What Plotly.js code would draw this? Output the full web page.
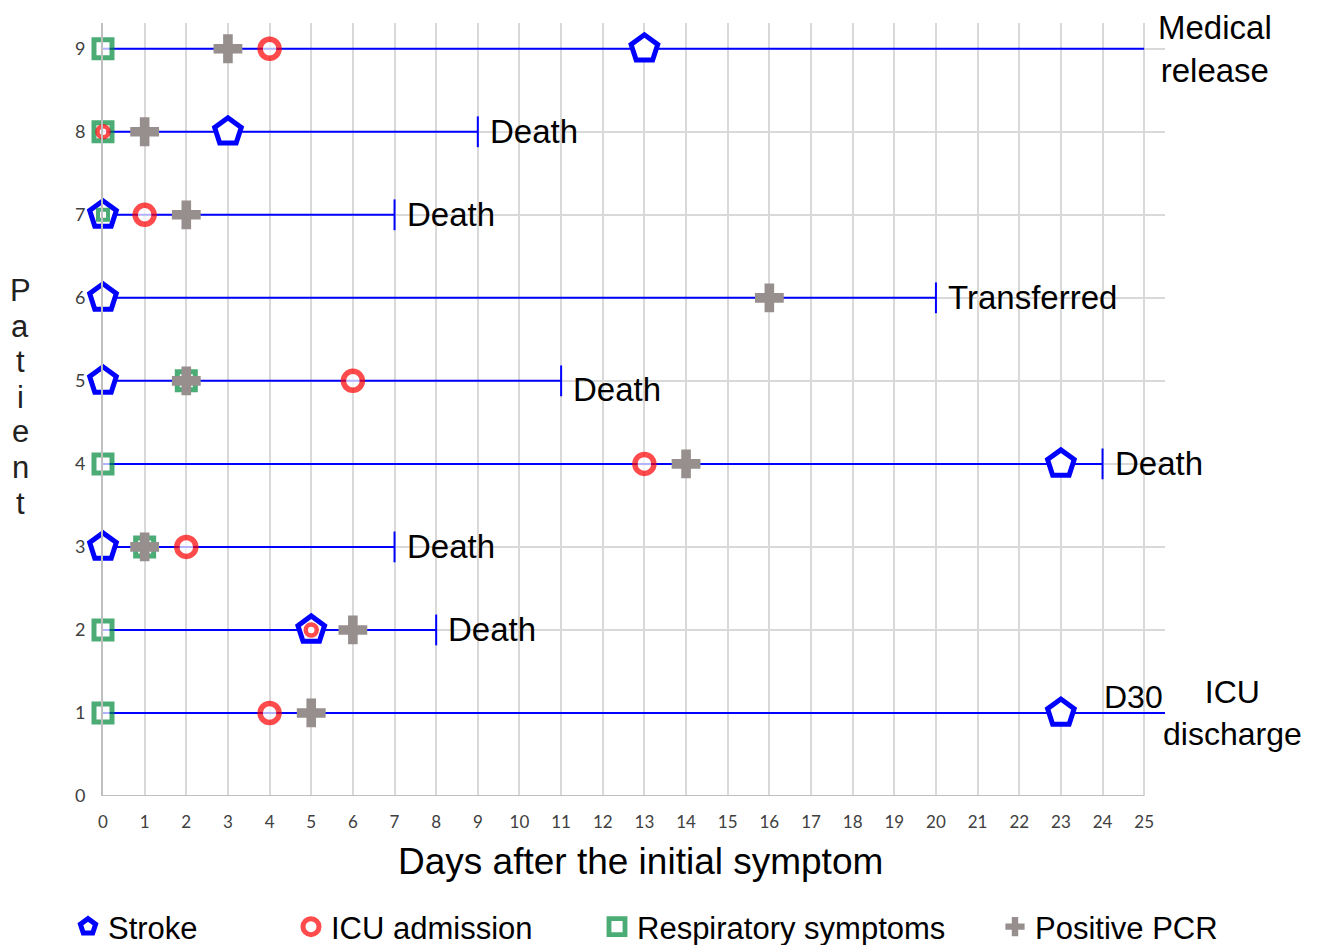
<!DOCTYPE html>
<html>
<head>
<meta charset="utf-8">
<script src="https://cdn.plot.ly/plotly-3.0.1.min.js"></script>
<style>html,body{margin:0;padding:0;background:#fff;}#chart{width:1317px;height:945px;}</style>
</head>
<body>
<div id="chart"></div>
<script>
// ---- data ----
const patients   = [1, 2, 3, 4, 5, 6, 7, 8, 9];
const endDay     = [25.5, 8, 7, 24, 11, 20, 7, 9, 25];
const outcome    = ['ICU discharge', 'Death', 'Death', 'Death', 'Death', 'Transferred', 'Death', 'Death', 'Medical release'];
const strokeDay  = [23, 5, 0, 23, 0, 0, 0, 3, 13];
const icuDay     = [4, 5, 2, 13, 6, null, 1, 0, 4];
const respDay    = [0, 0, 1, 0, 2, null, 0, 0, 0];
const pcrDay     = [5, 6, 1, 14, 2, 16, 2, 1, 3];
const xTicks     = Array.from({length: 26}, (_, i) => i);
const yTicks     = [0, 1, 2, 3, 4, 5, 6, 7, 8, 9];

// ---- styles ----
const BLUE = '#0000ff', RED = '#ff0000', GREEN = '#008a3c', GRAY = '#978e8e', WHITE = '#ffffff';
const FONT = 'Liberation Sans, Arial, sans-serif';

function pick(days) {
  const x = [], y = [];
  days.forEach((d, i) => { if (d !== null) { x.push(d); y.push(patients[i]); } });
  return {x, y};
}

const traces = [];

// patient timelines
const lx = [], ly = [];
patients.forEach((p, i) => { lx.push(0, endDay[i], null); ly.push(p, p, null); });
traces.push({x: lx, y: ly, mode: 'lines', line: {color: BLUE, width: 2}, showlegend: false, hoverinfo: 'skip'});

// end-of-follow-up ticks (Death / Transferred)
const tk = {x: [], y: []};
patients.forEach((p, i) => {
  if (outcome[i] === 'Death' || outcome[i] === 'Transferred') { tk.x.push(endDay[i]); tk.y.push(p); }
});
traces.push({x: tk.x, y: tk.y, mode: 'markers', showlegend: false, hoverinfo: 'skip',
  marker: {symbol: 'line-ns-open', size: 22, color: BLUE, line: {color: BLUE, width: 2}}});

// Stroke
const s = pick(strokeDay);
traces.push({x: s.x, y: s.y, mode: 'markers', name: 'Stroke', legend: 'legend', legendrank: 1,
  cliponaxis: false,
  marker: {symbol: 'pentagon', size: 28, color: WHITE, line: {color: BLUE, width: 5}}});

// Respiratory symptoms (smaller when nested inside a stroke marker)
const r = pick(respDay);
const rSize = [], rLw = [];
r.x.forEach((d, k) => {
  const i = patients.indexOf(r.y[k]);
  const nested = strokeDay[i] === d;
  rSize.push(nested ? 10 : 18); rLw.push(nested ? 4 : 5);
});
traces.push({x: r.x, y: r.y, mode: 'markers', name: 'Respiratory symptoms', legend: 'legend3', legendrank: 3,
  cliponaxis: false,
  marker: {symbol: 'square', size: rSize, color: WHITE, line: {color: GREEN, width: rLw}}});

// ICU admission (smaller when nested inside another marker)
const c = pick(icuDay);
const cSize = [], cLw = [];
c.x.forEach((d, k) => {
  const i = patients.indexOf(c.y[k]);
  const nested = strokeDay[i] === d || respDay[i] === d;
  cSize.push(nested ? 11 : 19); cLw.push(nested ? 4.5 : 5.5);
});
traces.push({x: c.x, y: c.y, mode: 'markers', name: 'ICU admission', legend: 'legend2', legendrank: 2,
  cliponaxis: false,
  marker: {symbol: 'circle', size: cSize, color: WHITE, line: {color: RED, width: cLw}}});

// Positive PCR
const q = pick(pcrDay);
traces.push({x: q.x, y: q.y, mode: 'markers', name: 'Positive PCR', legend: 'legend4', legendrank: 4,
  cliponaxis: false,
  marker: {symbol: 'cross', size: 24, color: GRAY, line: {width: 0}}});

// ---- annotations ----
const annotations = [];
const labelNudge = {5: -9};
patients.forEach((p, i) => {
  const o = outcome[i];
  if (o === 'Death' || o === 'Transferred') {
    annotations.push({x: endDay[i], y: p, xref: 'x', yref: 'y', text: o, showarrow: false,
      xanchor: 'left', yanchor: 'middle', xshift: 10, yshift: labelNudge[p] || 0,
      font: {family: FONT, size: 33, color: '#000'}});
  } else if (o === 'Medical release') {
    annotations.push({x: endDay[i], y: p, xref: 'x', yref: 'y', text: 'Medical<br>release', showarrow: false,
      xanchor: 'left', yanchor: 'middle', xshift: 12, align: 'center',
      font: {family: FONT, size: 33, color: '#000'}});
  } else if (o === 'ICU discharge') {
    annotations.push({x: endDay[i], y: p, xref: 'x', yref: 'y', text: 'D30', showarrow: false,
      xanchor: 'right', yanchor: 'bottom', xshift: 0, yshift: -4,
      font: {family: FONT, size: 32, color: '#000'}});
    annotations.push({x: endDay[i], y: p, xref: 'x', yref: 'y', text: 'ICU<br>discharge', showarrow: false,
      xanchor: 'left', yanchor: 'middle', xshift: -4, align: 'center',
      font: {family: FONT, size: 32, color: '#000'}});
  }
});

// x axis title
annotations.push({x: (640 - 103) / 1062, y: (796 - 861) / 773, xref: 'paper', yref: 'paper',
  text: 'Days after the initial symptom', showarrow: false, xanchor: 'center', yanchor: 'middle',
  font: {family: FONT, size: 37, color: '#000'}});

// vertical y axis title, stacked letters
const yTitle = 'Patient';
const letterY = [290, 326, 361, 397, 432, 467, 503];
yTitle.split('').forEach((ch, k) => {
  annotations.push({x: 0, y: (796 - letterY[k]) / 773, xref: 'paper', yref: 'paper', xshift: -83,
    text: ch, showarrow: false, xanchor: 'center', yanchor: 'middle',
    font: {family: FONT, size: 31, color: '#222'}});
});

function legendAt(px) {
  return {orientation: 'h', x: (px - 103) / 1062, xanchor: 'left', y: (796 - 927) / 773, yanchor: 'middle',
    bgcolor: 'rgba(0,0,0,0)', font: {family: FONT, size: 31, color: '#000'}, itemwidth: 30};
}

const layout = {
  width: 1317, height: 945,
  margin: {l: 103, r: 152, t: 23, b: 149, pad: 0, autoexpand: false},
  paper_bgcolor: '#fff', plot_bgcolor: '#fff',
  font: {family: FONT},
  showlegend: true,
  legend: legendAt(88 - 20),
  legend2: legendAt(311 - 20),
  legend3: legendAt(617 - 20),
  legend4: legendAt(1015 - 20),
  xaxis: {range: [0, 25.5], tickvals: xTicks, ticktext: xTicks.map(String), showgrid: true,
    gridcolor: '#d9d9d9', gridwidth: 2, zeroline: false, showline: false, ticks: '',
    ticklabelstandoff: 14, tickfont: {family: 'Lato, Liberation Sans, sans-serif', size: 17, color: '#404040'},
    fixedrange: true},
  yaxis: {range: [0, 9.31], tickvals: yTicks, ticktext: yTicks.map(String), showgrid: true,
    gridcolor: '#d9d9d9', gridwidth: 2, zeroline: false, showline: true, linecolor: '#bfbfbf', linewidth: 2,
    ticks: '', ticklabelstandoff: 12,
    tickfont: {family: 'Lato, Liberation Sans, sans-serif', size: 18, color: '#404040'}, fixedrange: true},
  shapes: [{type: 'line', xref: 'x', yref: 'y', x0: 0, x1: 25, y0: 0, y1: 0,
    line: {color: '#bfbfbf', width: 2}, layer: 'above'}],
  annotations: annotations
};

Plotly.newPlot('chart', traces, layout, {displayModeBar: false, staticPlot: true});
</script>
</body>
</html>
